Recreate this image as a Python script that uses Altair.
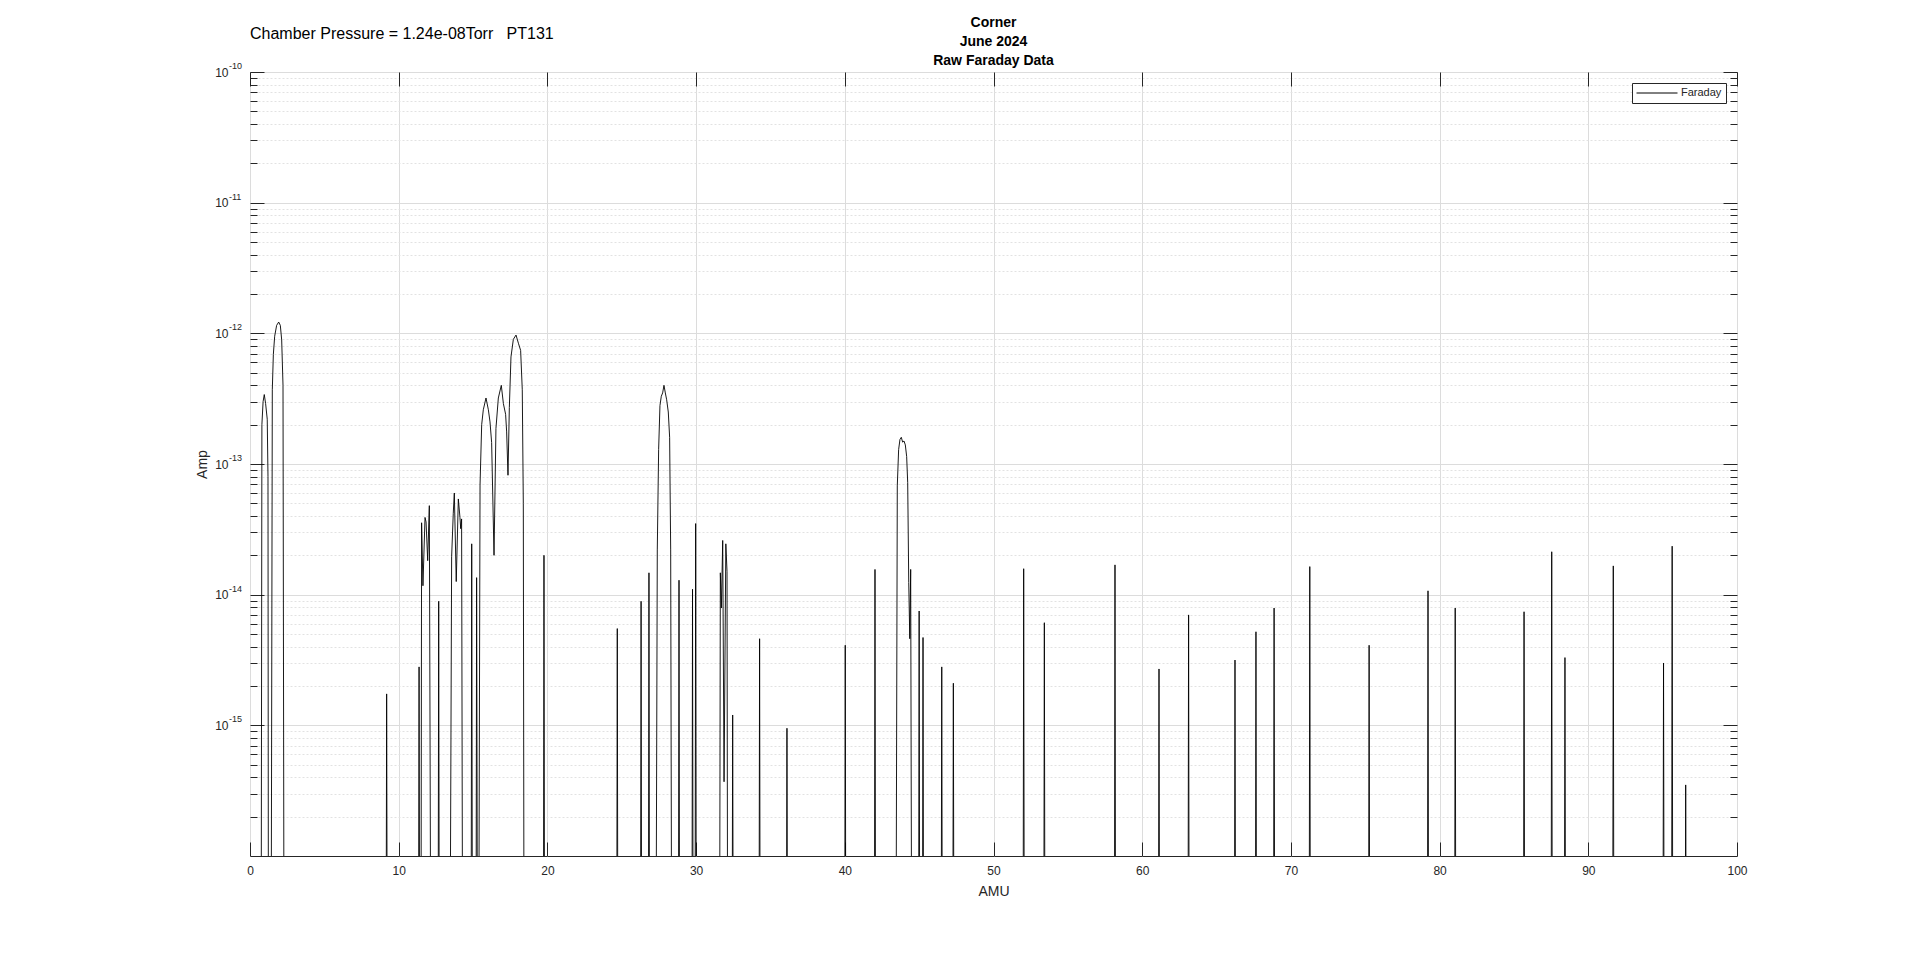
import altair as alt
import pandas as pd

F = 1e-17  # below the visible floor of the log axis (clipped away)

# ---- trace values (AMU, Amp) ----
amu_hydrogen = [0.75, 0.80, 0.88, 0.96, 1.05, 1.16, 1.21, 1.24,
                1.42, 1.50, 1.57, 1.66, 1.79, 1.93, 2.04, 2.13, 2.22, 2.29]
amp_hydrogen = [F, 2.0e-13, 3.0e-13, 3.4e-13, 2.9e-13, 2.2e-13, 8e-14, F,
                F, 3.7e-13, 6.9e-13, 9.5e-13, 1.15e-12, 1.22e-12, 1.15e-12, 8.9e-13, 4.0e-13, F]

amu_light = [9.15, 9.19, 9.23,
             11.33, 11.37, 11.41,
             11.50, 11.54, 11.63, 11.77, 11.84, 11.95, 12.06, 12.16,
             12.65, 12.69, 12.73,
             13.45, 13.56, 13.67, 13.74, 13.87, 14.01, 14.12, 14.17, 14.23, 14.30,
             14.87, 14.91, 14.96,
             15.20, 15.24, 15.30]
amp_light = [F, 1.74e-15, F,
             F, 2.8e-15, F,
             F, 3.55e-14, 1.17e-14, 3.9e-14, 3.6e-14, 1.82e-14, 4.8e-14, F,
             F, 8.9e-15, F,
             F, 1.95e-14, 4.2e-14, 6.0e-14, 1.26e-14, 5.4e-14, 3.9e-14, 3.2e-14, 3.8e-14, F,
             F, 2.45e-14, F,
             F, 1.35e-14, F]

amu_water = [15.38, 15.47, 15.58, 15.69, 15.87, 16.03, 16.14, 16.25, 16.41,
             16.54, 16.70, 16.90, 17.04, 17.19, 17.26, 17.35, 17.44, 17.55,
             17.71, 17.89, 18.05, 18.20, 18.31, 18.38, 18.43]
amp_water = [F, 6.9e-14, 2.0e-13, 2.6e-13, 3.2e-13, 2.6e-13, 2.1e-13, 1.46e-13, 2.0e-14,
             1.87e-13, 3.2e-13, 4.0e-13, 2.9e-13, 2.4e-13, 1.76e-13, 8.2e-14, 2.7e-13, 6.6e-13,
             9.0e-13, 9.7e-13, 8.4e-13, 7.4e-13, 3.7e-13, 5e-14, F]

amu_mid = [19.73, 19.77, 19.81,
           24.66, 24.70, 24.74,
           26.26, 26.30, 26.34,
           26.79, 26.83, 26.87,
           27.30, 27.39, 27.48, 27.57, 27.66, 27.75, 27.84, 27.93, 28.02, 28.13, 28.22, 28.29, 28.36,
           28.81, 28.85, 28.89,
           29.72, 29.76, 29.80,
           29.93, 29.97, 30.01,
           31.58, 31.63, 31.70, 31.79, 31.88, 32.00, 32.08, 32.12,
           32.42, 32.46, 32.50,
           34.23, 34.27, 34.31,
           36.07, 36.11, 36.15]
amp_mid = [F, 2.0e-14, F,
           F, 5.5e-15, F,
           F, 8.9e-15, F,
           F, 1.47e-14, F,
           F, 2.2e-14, 1.29e-13, 2.8e-13, 3.3e-13, 3.5e-13, 4.0e-13, 3.5e-13, 3.1e-13, 2.5e-13, 1.6e-13, 2.2e-14, F,
           F, 1.29e-14, F,
           F, 1.1e-14, F,
           F, 3.5e-14, F,
           F, 1.47e-14, 7.9e-15, 2.6e-14, 3.7e-16, 2.45e-14, 1.5e-14, F,
           F, 1.2e-15, F,
           F, 4.6e-15, F,
           F, 9.5e-16, F]

amu_co2 = [39.99, 40.03, 40.07,
           41.99, 42.03, 42.07,
           43.44, 43.53, 43.62, 43.71, 43.80, 43.89, 43.98, 44.07, 44.16, 44.23, 44.30, 44.37, 44.43, 44.50,
           44.96, 45.00, 45.04,
           45.22, 45.26, 45.30,
           46.48, 46.52, 46.56,
           47.26, 47.30, 47.34]
amp_co2 = [F, 4.1e-15, F,
           F, 1.56e-14, F,
           F, 6.8e-14, 1.29e-13, 1.54e-13, 1.6e-13, 1.47e-13, 1.5e-13, 1.4e-13, 1.14e-13, 7.2e-14, 1.24e-14, 4.6e-15, 1.56e-14, F,
           F, 7.5e-15, F,
           F, 4.7e-15, F,
           F, 2.8e-15, F,
           F, 2.1e-15, F]

amu_heavy = [51.99, 52.03, 52.07,
             53.38, 53.42, 53.46,
             58.13, 58.17, 58.21,
             61.09, 61.13, 61.17,
             63.08, 63.12, 63.16,
             66.20, 66.24, 66.28,
             67.61, 67.65, 67.69,
             68.83, 68.87, 68.91,
             71.23, 71.27, 71.31,
             75.22, 75.26, 75.30,
             79.18, 79.22, 79.26,
             81.01, 81.05, 81.09,
             85.64, 85.68, 85.72,
             87.50, 87.54, 87.58,
             88.39, 88.43, 88.47,
             91.64, 91.68, 91.72,
             95.02, 95.06, 95.10,
             95.60, 95.64, 95.68,
             96.51, 96.55, 96.59]
amp_heavy = [F, 1.58e-14, F,
             F, 6.1e-15, F,
             F, 1.69e-14, F,
             F, 2.7e-15, F,
             F, 7.0e-15, F,
             F, 3.16e-15, F,
             F, 5.2e-15, F,
             F, 7.9e-15, F,
             F, 1.64e-14, F,
             F, 4.1e-15, F,
             F, 1.07e-14, F,
             F, 7.9e-15, F,
             F, 7.4e-15, F,
             F, 2.13e-14, F,
             F, 3.3e-15, F,
             F, 1.66e-14, F,
             F, 3.0e-15, F,
             F, 2.35e-14, F,
             F, 3.5e-16, F]

x_ticks = [0, 10, 20, 30, 40, 50, 60, 70, 80, 90, 100]
y_major = [1e-15, 1e-14, 1e-13, 1e-12, 1e-11, 1e-10]
y_exponents = ['-15', '-14', '-13', '-12', '-11', '-10']
y_minor = [k * 10.0 ** n for n in range(-16, -10) for k in range(2, 10)]

title_lines = ['Corner', 'June 2024', 'Raw Faraday Data']
header_text = 'Chamber Pressure = 1.24e-08Torr\u00a0\u00a0\u00a0PT131'
series_name = 'Faraday'

amu = amu_hydrogen + amu_light + amu_water + amu_mid + amu_co2 + amu_heavy
amp = amp_hydrogen + amp_light + amp_water + amp_mid + amp_co2 + amp_heavy
df = pd.DataFrame({'AMU': amu, 'Amp': amp, 'series': series_name})
df_exp = pd.DataFrame({'value': y_major, 'exponent': y_exponents})

FONT = 'Liberation Sans'
INK = '#262626'

xs = alt.Scale(type='linear', domain=[0, 100], nice=False, zero=False)
ys = alt.Scale(type='log', domain=[1e-16, 1e-10], nice=False)

x_main = alt.Axis(orient='bottom', values=x_ticks, format='d', title='AMU', grid=True,
                  gridColor='#dcdcdc', gridWidth=1, tickSize=14, offset=-14, domain=False,
                  tickColor=INK, labelColor=INK, labelFont=FONT, labelFontSize=12,
                  labelPadding=9, labelFlush=False, titleFont=FONT, titleFontSize=14,
                  titleFontWeight='normal', titleColor=INK, titlePadding=8)
y_main = alt.Axis(orient='left', values=y_major, labelExpr="'10'", title='Amp', grid=True,
                  gridColor='#dcdcdc', gridWidth=1, tickSize=14, offset=-14, domain=False,
                  tickColor=INK, labelColor=INK, labelFont=FONT, labelFontSize=12,
                  labelPadding=22, labelFlush=False, titleFont=FONT, titleFontSize=14,
                  titleFontWeight='normal', titleColor=INK, titlePadding=5)
y_minor_left = alt.Axis(orient='left', values=y_minor, labels=False, title=None, grid=True,
                        gridColor='#e2e2e2', gridDash=[2, 2], gridWidth=1, tickSize=7,
                        offset=-7, domain=False, tickColor=INK)
y_right_major = alt.Axis(orient='right', values=y_major, labels=False, title=None, grid=False,
                         tickSize=14, offset=-14, domain=False, tickColor=INK)
y_right_minor = alt.Axis(orient='right', values=y_minor, labels=False, title=None, grid=False,
                         tickSize=7, offset=-7, domain=False, tickColor=INK)
x_top = alt.Axis(orient='top', values=x_ticks, labels=False, title=None, grid=False,
                 tickSize=14, offset=-14, domain=False, tickColor=INK)

main = alt.Chart(df).mark_line(clip=True, strokeWidth=0.9).encode(
    x=alt.X('AMU:Q', scale=xs, axis=x_main),
    y=alt.Y('Amp:Q', scale=ys, axis=y_main),
    color=alt.Color('series:N', scale=alt.Scale(range=['#000000']),
                    legend=alt.Legend(orient='none', legendX=1382, legendY=11, title=None,
                                      strokeColor=INK, fillColor='white', padding=4,
                                      symbolType='stroke', symbolSize=1681,
                                      symbolStrokeWidth=1, clipHeight=12,
                                      labelFont=FONT, labelFontSize=11, labelColor=INK,
                                      labelOffset=3)),
)


def guide_layer(x_axis, y_axis):
    return alt.Chart(df).mark_line(strokeOpacity=0, clip=True).encode(
        x=alt.X('AMU:Q', scale=xs, axis=x_axis),
        y=alt.Y('Amp:Q', scale=ys, axis=y_axis),
    )


# superscript exponents of the y tick labels
exponents = alt.Chart(df_exp).mark_text(
    align='left', baseline='middle', font=FONT, fontSize=9, color=INK, dy=-6
).encode(x=alt.value(-21), y=alt.Y('value:Q', scale=ys, axis=None), text='exponent:N')

header = alt.Chart(pd.DataFrame({'label': [header_text]})).mark_text(
    align='left', baseline='middle', font=FONT, fontSize=16, color='#000000'
).encode(x=alt.value(0), y=alt.value(-38), text='label:N')

chart = alt.layer(
    guide_layer(None, y_minor_left),
    main,
    guide_layer(None, y_right_major),
    guide_layer(None, y_right_minor),
    guide_layer(x_top, None),
    exponents,
    header,
).resolve_axis(x='independent', y='independent').properties(
    width=1487, height=784,
    title=alt.TitleParams(text=title_lines, anchor='middle', frame='group', font=FONT,
                          fontSize=14, fontWeight='bold', color='#000000', lineHeight=19,
                          offset=-41.5),
    autosize=alt.AutoSizeParams(type='none'),
    padding={'left': 242, 'top': 64, 'right': 175, 'bottom': 99},
).configure_view(stroke=INK, strokeWidth=1)

chart.save('out.html', embed_options={'renderer': 'svg', 'actions': False})
